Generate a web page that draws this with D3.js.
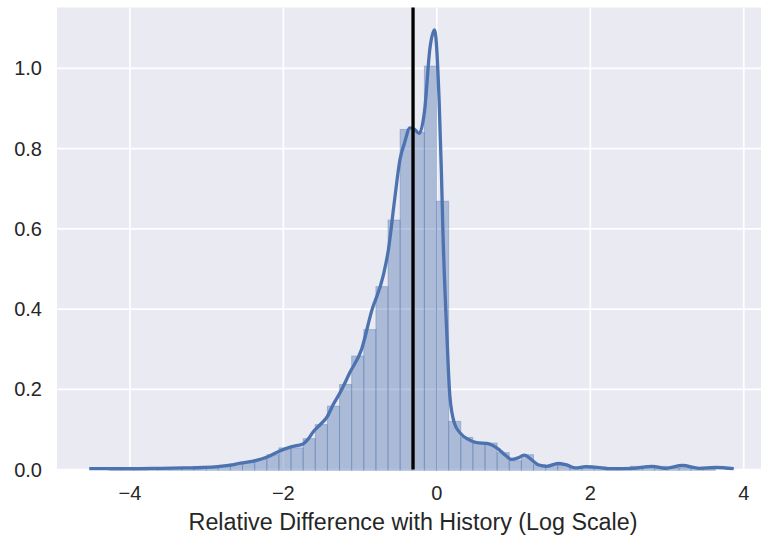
<!DOCTYPE html>
<meta charset="utf-8">
<script src="https://cdn.jsdelivr.net/npm/d3@7"></script>
<style>
  body { margin: 0; background: #fff; }
  text { font-family: "Liberation Sans", Arial, sans-serif; fill: #262626; }
</style>
<div id="vis"></div>
<script>
// histogram: 50 equal bins, heights (density)
const binStart = -4.27
const binWidth = 0.158
const binHeights = [
  0.002, 0.001, 0.002, 0.002, 0.003, 0.004, 0.004, 0.005, 0.004, 0.008,
  0.014, 0.017, 0.025, 0.037, 0.054, 0.054, 0.077, 0.112, 0.158, 0.212,
  0.283, 0.349, 0.456, 0.622, 0.848, 0.841, 1.006, 0.669, 0.120, 0.080,
  0.068, 0.066, 0.042, 0.022, 0.037, 0.012, 0.010, 0.012, 0.005, 0.004,
  0.002, 0.003, 0.004, 0.008, 0.004, 0.008, 0.003, 0.004, 0.003, 0.002
]

// kde curve
const kdeX = [-4.53, -4.0, -3.6, -3.3, -3.05, -2.86, -2.69, -2.56, -2.39, -2.21,
  -2.04, -1.91, -1.81, -1.74, -1.68, -1.61, -1.52, -1.43, -1.35, -1.26,
  -1.13, -0.98, -0.85, -0.70, -0.63, -0.55, -0.48, -0.42, -0.35, -0.29,
  -0.23, -0.16, -0.09, -0.03, 0.03, 0.06, 0.08, 0.13, 0.17, 0.23,
  0.30, 0.41, 0.52, 0.65, 0.78, 0.91, 0.97, 1.06, 1.14, 1.23,
  1.32, 1.43, 1.58, 1.68, 1.81, 1.94, 2.05, 2.29, 2.55, 2.81,
  2.98, 3.2, 3.42, 3.63, 3.87]
const kdeY = [0.002, 0.002, 0.003, 0.004, 0.005, 0.007, 0.011, 0.016, 0.021, 0.031,
  0.047, 0.056, 0.060, 0.064, 0.075, 0.094, 0.112, 0.131, 0.162, 0.192,
  0.243, 0.300, 0.395, 0.482, 0.549, 0.673, 0.773, 0.815, 0.852, 0.848,
  0.838, 0.894, 1.050, 1.096, 0.920, 0.740, 0.590, 0.340, 0.183, 0.115,
  0.092, 0.075, 0.067, 0.065, 0.054, 0.033, 0.025, 0.029, 0.036, 0.025,
  0.012, 0.008, 0.015, 0.012, 0.004, 0.007, 0.006, 0.002, 0.003, 0.008,
  0.003, 0.010, 0.003, 0.005, 0.002]

const medianLine = -0.31
const xTicks = [-4, -2, 0, 2, 4]
const yTicks = [0.0, 0.2, 0.4, 0.6, 0.8, 1.0]
const xLabel = "Relative Difference with History (Log Scale)"

const blue = "#4c72b0"
const W = 761, H = 539
const margin = {top: 7.5, right: -5, bottom: 69.5, left: 57}
const width = W - margin.left - margin.right
const height = H - margin.top - margin.bottom

const x = d3.scaleLinear().domain([-4.95, 4.29]).range([0, width])
const y = d3.scaleLinear().domain([0, 1.152]).range([height, 0])

const svg = d3.select("#vis").append("svg")
  .attr("width", W).attr("height", H)
const g = svg.append("g")
  .attr("transform", `translate(${margin.left},${margin.top})`)

g.append("rect")
  .attr("width", width).attr("height", height)
  .attr("fill", "#eaeaf2")

// grid
g.selectAll(".gx").data(xTicks).enter().append("line")
  .attr("x1", d => x(d)).attr("x2", d => x(d))
  .attr("y1", 0).attr("y2", height)
  .attr("stroke", "#fff").attr("stroke-width", 1.7)
g.selectAll(".gy").data(yTicks).enter().append("line")
  .attr("x1", 0).attr("x2", width)
  .attr("y1", d => y(d)).attr("y2", d => y(d))
  .attr("stroke", "#fff").attr("stroke-width", 1.7)

// bars
const bins = binHeights.map((h, i) => ({x0: binStart + i * binWidth, x1: binStart + (i + 1) * binWidth, h: h}))
g.selectAll(".bar").data(bins).enter().append("rect")
  .attr("x", d => x(d.x0))
  .attr("y", d => y(d.h))
  .attr("width", d => x(d.x1) - x(d.x0))
  .attr("height", d => y(0) - y(d.h) + 0.8)
  .attr("fill", blue).attr("fill-opacity", 0.4)
  .attr("stroke", blue).attr("stroke-opacity", 0.35).attr("stroke-width", 1)

// kde
const line = d3.line()
  .x(d => x(d[0])).y(d => y(d[1]))
  .curve(d3.curveMonotoneX)
g.append("path")
  .datum(kdeX.map((v, i) => [v, kdeY[i]]))
  .attr("d", line)
  .attr("fill", "none").attr("stroke", blue)
  .attr("stroke-width", 3.3).attr("stroke-linejoin", "round").attr("stroke-linecap", "butt")

// vertical marker
g.append("line")
  .attr("x1", x(medianLine)).attr("x2", x(medianLine))
  .attr("y1", 0).attr("y2", height)
  .attr("stroke", "#000").attr("stroke-width", 3.3)

// tick labels
const fmtX = d => d < 0 ? "\u2212" + Math.abs(d) : String(d)
g.selectAll(".tx").data(xTicks).enter().append("text")
  .attr("x", d => x(d)).attr("y", height + 30.5)
  .attr("text-anchor", "middle").attr("font-size", 20)
  .text(fmtX)
g.selectAll(".ty").data(yTicks).enter().append("text")
  .attr("x", -15).attr("y", d => y(d) + 7)
  .attr("text-anchor", "end").attr("font-size", 20)
  .text(d => d.toFixed(1))

g.append("text")
  .attr("x", 356).attr("y", height + 60)
  .attr("text-anchor", "middle").attr("font-size", 23.3)
  .text(xLabel)
</script>
